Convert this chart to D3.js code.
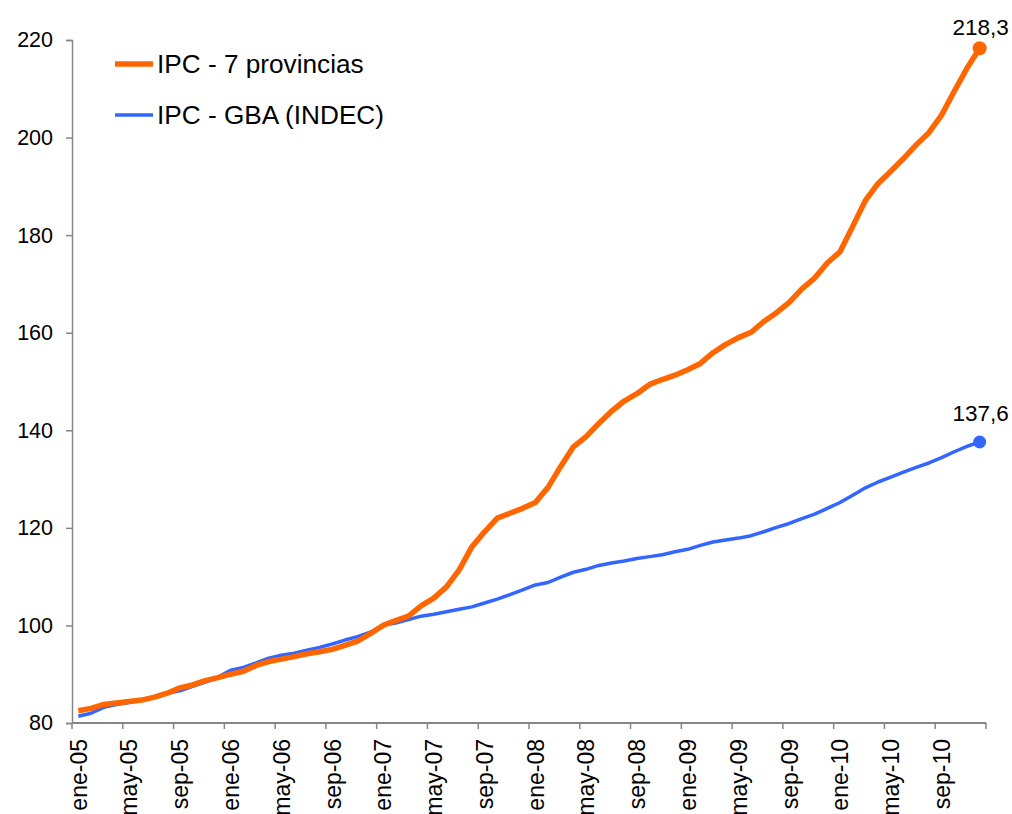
<!DOCTYPE html>
<html>
<head>
<meta charset="utf-8">
<script src="https://cdn.jsdelivr.net/npm/d3@7"></script>
<style>
  html, body { margin: 0; padding: 0; background: #fff; }
  svg { display: block; }
  text { font-family: "Liberation Sans", Arial, sans-serif; fill: #000; }
</style>
</head>
<body>
<svg id="chart" width="1012" height="814"></svg>
<script>
// Monthly categories: ene-05 ... dic-10
const monthNames = ["ene", "feb", "mar", "abr", "may", "jun", "jul", "ago", "sep", "oct", "nov", "dic"];
const years = ["05", "06", "07", "08", "09", "10"];
const categories = years.flatMap(y => monthNames.map(m => `${m}-${y}`));

// IPC - 7 provincias
const ipcProvincias = [
  82.5, 83.0, 83.8, 84.1, 84.4, 84.7, 85.3, 86.1, 87.2, 87.8, 88.7, 89.3,
  90.0, 90.6, 91.8, 92.6, 93.1, 93.6, 94.2, 94.6, 95.1, 95.9, 96.8, 98.3,
  100.0, 101.0, 101.9, 104.0, 105.6, 107.9, 111.4, 116.1, 119.2, 122.0, 123.0, 124.0,
  125.2, 128.3, 132.6, 136.6, 138.7, 141.4, 143.9, 146.0, 147.5, 149.4, 150.4, 151.3,
  152.4, 153.7, 155.9, 157.6, 159.0, 160.1, 162.3, 164.1, 166.2, 169.0, 171.2, 174.3,
  176.6, 181.8, 187.1, 190.6, 193.1, 195.7, 198.5, 201.0, 204.6, 209.5, 214.2, 218.3
];

// IPC - GBA (INDEC)
const ipcGBA = [
  81.4, 82.0, 83.2, 83.8, 84.2, 84.8, 85.3, 86.1, 86.6, 87.5, 88.4, 89.4,
  90.8, 91.4, 92.3, 93.3, 93.9, 94.3, 94.9, 95.5, 96.2, 97.0, 97.7, 98.6,
  100.1, 100.5, 101.2, 101.9, 102.3, 102.8, 103.3, 103.8, 104.6, 105.4, 106.3, 107.3,
  108.3, 108.8, 109.9, 110.9, 111.5, 112.3, 112.8, 113.2, 113.7, 114.1, 114.5, 115.1,
  115.6, 116.4, 117.1, 117.5, 117.9, 118.4, 119.2, 120.1, 120.9, 121.9, 122.8, 124.0,
  125.2, 126.7, 128.2, 129.4, 130.4, 131.4, 132.4, 133.3, 134.4, 135.6, 136.7, 137.6
];

const yTicks = [80, 100, 120, 140, 160, 180, 200, 220];
const tickEvery = 4;

const seriesList = [
  { name: "IPC - 7 provincias", values: ipcProvincias, color: "#FF6600", width: 5.5, r: 7 },
  { name: "IPC - GBA (INDEC)", values: ipcGBA, color: "#3366FF", width: 3.5, r: 6.5 }
];

const svg = d3.select("#chart");
const plot = { left: 72, right: 986, top: 40, bottom: 723 };

const x = d3.scaleBand().domain(categories).range([plot.left, plot.right]).padding(0);
const y = d3.scaleLinear().domain([80, 220]).range([plot.bottom, plot.top]);
const cx = c => x(c) + x.bandwidth() / 2;

const axisColor = "#868686";

// Y axis
const yAxis = svg.append("g")
  .attr("transform", `translate(${plot.left},0)`)
  .call(d3.axisLeft(y).tickValues(yTicks).tickSize(6).tickPadding(13).tickFormat(d3.format("d")));
yAxis.select(".domain").attr("stroke", axisColor).attr("stroke-width", 1.5);
yAxis.selectAll(".tick line").attr("stroke", axisColor).attr("stroke-width", 1.5);
yAxis.selectAll(".tick text").style("font-size", "21.5px").style("font-family", "'Liberation Sans', Arial, sans-serif");

// X axis: tick marks on category boundaries, labels at category centres
const xg = svg.append("g");
xg.append("line")
  .attr("x1", plot.left).attr("x2", plot.right)
  .attr("y1", plot.bottom).attr("y2", plot.bottom)
  .attr("stroke", axisColor).attr("stroke-width", 2);

const tickCats = categories.filter((c, i) => i % tickEvery === 0);
const tickPos = tickCats.map(c => x(c)).concat([plot.right]);
xg.selectAll("line.tk").data(tickPos).join("line")
  .attr("class", "tk")
  .attr("x1", d => d).attr("x2", d => d)
  .attr("y1", plot.bottom).attr("y2", plot.bottom + 6)
  .attr("stroke", axisColor).attr("stroke-width", 1.5);

xg.selectAll("text.xl").data(tickCats).join("text")
  .attr("class", "xl")
  .attr("transform", d => `translate(${cx(d)},${plot.bottom + 16}) rotate(-90)`)
  .attr("dy", "0.36em")
  .attr("text-anchor", "end")
  .style("font-size", "23px")
  .text(d => d);

// Lines
const line = d3.line()
  .x((v, i) => cx(categories[i]))
  .y(v => y(v));

seriesList.slice().reverse().forEach(s => {
  svg.append("path")
    .datum(s.values)
    .attr("fill", "none")
    .attr("stroke", s.color)
    .attr("stroke-width", s.width)
    .attr("stroke-linejoin", "round")
    .attr("d", line);
});

// End markers and value labels (kept inside the top of the chart)
const fmt = v => d3.format(".1f")(v).replace(".", ",");
seriesList.forEach(s => {
  const last = s.values.length - 1;
  const px = cx(categories[last]);
  const py = y(s.values[last]);
  svg.append("circle").attr("cx", px).attr("cy", py).attr("r", s.r).attr("fill", s.color);
  svg.append("text")
    .attr("x", px + 1).attr("y", Math.max(py - 21, 35))
    .attr("text-anchor", "middle")
    .style("font-size", "22.5px")
    .text(fmt(s.values[last]));
});

// Legend
const legend = svg.append("g");
seriesList.forEach((s, i) => {
  const ly = 64 + i * 51;
  legend.append("line")
    .attr("x1", 115).attr("x2", 153)
    .attr("y1", ly).attr("y2", ly)
    .attr("stroke", s.color).attr("stroke-width", s.width);
  legend.append("text")
    .attr("x", 157).attr("y", ly)
    .attr("dy", "0.35em")
    .style("font-size", "26.2px")
    .text(s.name);
});
</script>
</body>
</html>
